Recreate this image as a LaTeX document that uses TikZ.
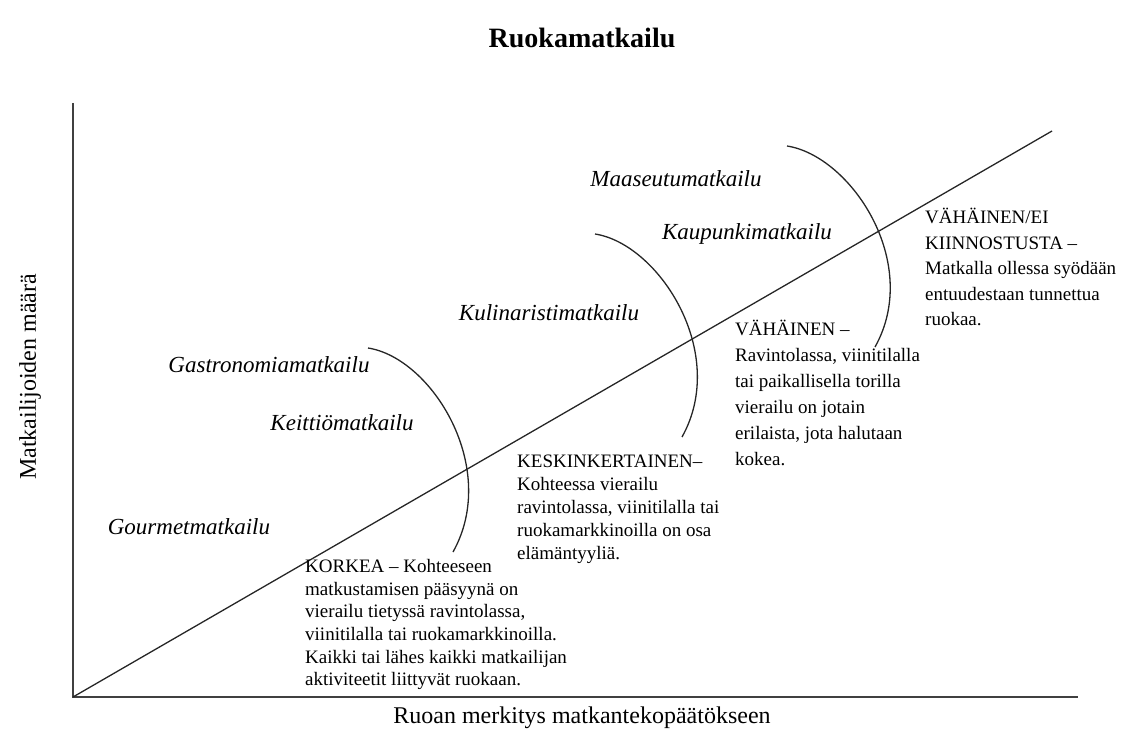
\documentclass[tikz,border=0pt]{standalone}
\usepackage{fontspec}
\setmainfont{Liberation Serif}
\tikzstyle{axisline}=[line width=1.6pt,draw=black!75]
\tikzstyle{arcline}=[line width=1.3pt,draw=black!85]
\tikzstyle{typelabel}=[font=\fontsize{23}{27}\selectfont\itshape,inner sep=0pt]
\tikzset{levelbox/.style={anchor=north west,align=left,inner sep=0pt,
  font=\fontsize{19}{#1}\selectfont}}

\begin{document}
\begin{tikzpicture}[x=1pt,y=-1pt]
        \useasboundingbox (0,0) rectangle (1131,754);

        % axes
        \coordinate (origin) at (73,697);
        \coordinate (ytop) at (73,103);
        \coordinate (xend) at (1078,697);
        \coordinate (diagend) at (1052,131);

        \node[font=\fontsize{28}{32}\selectfont\bfseries] (title) at (582,38) {Ruokamatkailu};
        \node[font=\fontsize{24}{28}\selectfont,rotate=90] (ylab) at (30,377) {Matkailijoiden määrä};
        \node[font=\fontsize{24}{28}\selectfont] (xlab) at (582,718) {Ruoan merkitys matkantekopäätökseen};

        \draw[axisline] (ytop) -- (origin) -- (xend);
        \draw[arcline] (origin) -- (diagend);

        % arcs between the groups
        \coordinate (a1s) at (368,348);
        \coordinate (a1e) at (453,552);
        \coordinate (a2s) at (595,234);
        \coordinate (a2e) at (682,437);
        \coordinate (a3s) at (787,146);
        \coordinate (a3e) at (875,347);
        \draw[arcline] (a1s) .. controls +(64,10) and +(47,-84) .. (a1e);
        \draw[arcline] (a2s) .. controls +(64,10) and +(47,-84) .. (a2e);
        \draw[arcline] (a3s) .. controls +(64,10) and +(47,-84) .. (a3e);

        % tourism types
        \node[typelabel] (maaseutu) at (676,179) {Maaseutumatkailu};
        \node[typelabel] (kaupunki) at (747,234) {Kaupunkimatkailu};
        \node[typelabel] (kulinaristi) at (549,313) {Kulinaristimatkailu};
        \node[typelabel] (gastro) at (269,365) {Gastronomiamatkailu};
        \node[typelabel] (keittio) at (342,423) {Keittiömatkailu};
        \node[typelabel] (gourmet) at (189,527) {Gourmetmatkailu};

        % interest levels
        \node[levelbox=22.7] (korkea) at (305,559) {KORKEA – Kohteeseen\\
            matkustamisen pääsyynä on\\
            vierailu tietyssä ravintolassa,\\
            viinitilalla tai ruokamarkkinoilla.\\
            Kaikki tai lähes kaikki matkailijan\\
            aktiviteetit liittyvät ruokaan.};
        \node[levelbox=23] (keski) at (517,455) {KESKINKERTAINEN–\\
            Kohteessa vierailu\\
            ravintolassa, viinitilalla tai\\
            ruokamarkkinoilla on osa\\
            elämäntyyliä.};
        \node[levelbox=26] (vahainen) at (735,320) {VÄHÄINEN –\\
            Ravintolassa, viinitilalla\\
            tai paikallisella torilla\\
            vierailu on jotain\\
            erilaista, jota halutaan\\
            kokea.};
        \node[levelbox=25.5] (eikiinnostusta) at (925,208) {VÄHÄINEN/EI\\
            KIINNOSTUSTA –\\
            Matkalla ollessa syödään\\
            entuudestaan tunnettua\\
            ruokaa.};
    \end{tikzpicture}
\end{document}
